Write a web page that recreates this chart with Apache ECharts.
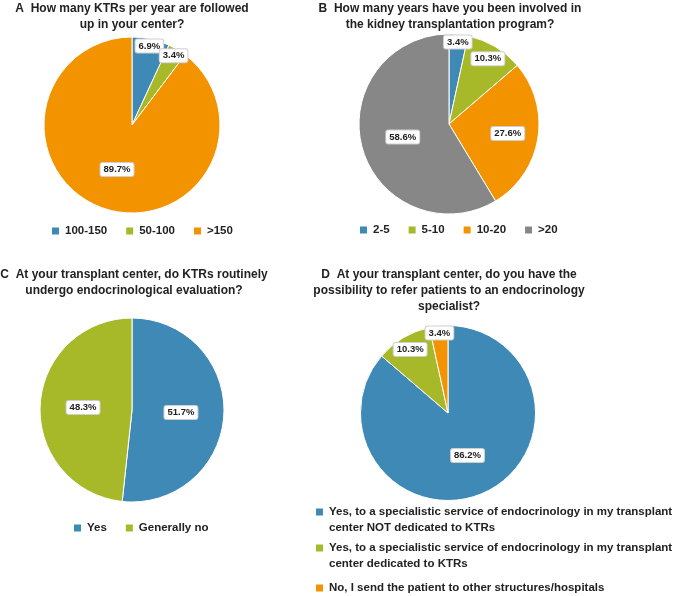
<!DOCTYPE html>
<html>
<head>
<meta charset="utf-8">
<script src="https://cdn.jsdelivr.net/npm/echarts@6/dist/echarts.min.js"></script>
<style>
  html, body { margin: 0; padding: 0; background: #fff; }
  #chart { width: 685px; height: 596px; }
</style>
</head>
<body>
<div id="chart"></div>
<script>
// A: KTRs followed per year
const ktrCats = ["100-150", "50-100", ">150"];
const ktrVals = [6.9, 3.4, 89.7];
// B: years in program
const yearCats = ["2-5", "5-10", "10-20", ">20"];
const yearVals = [3.4, 10.3, 27.6, 58.6];
// C: routine endocrinological evaluation
const evalCats = ["Yes", "Generally no"];
const evalVals = [51.7, 48.3];
// D: referral possibility
const referCats = [
  "Yes, to a specialistic service of endocrinology in my transplant center NOT dedicated to KTRs",
  "Yes, to a specialistic service of endocrinology in my transplant center dedicated to KTRs",
  "No, I send the patient to other structures/hospitals",
];
const referVals = [86.2, 10.3, 3.4];

const BLUE = "#3f89b7", GREEN = "#a7b929", ORANGE = "#f49300", GREY = "#878787";
const font = "Liberation Sans, Arial, sans-serif";

function pieData(cats, vals) {
  return cats.map((name, i) => ({ name, value: vals[i] }));
}

// Excel "best fit": small slices get their label near the rim
function labelPush(center, vals) {
  return (p) => {
    const v = vals[p.dataIndex];
    const f = v < 8 ? 0.86 : v < 15 ? 0.79 : v < 40 ? 0.62 : 0.5;
    const lx = p.labelRect.x + p.labelRect.width / 2;
    const ly = p.labelRect.y + p.labelRect.height / 2;
    const k = 2 * f - 1;
    return { dx: (lx - center[0]) * k, dy: (ly - center[1]) * k };
  };
}

function pie(center, radius, cats, vals, colors) {
  return {
    type: "pie",
    center,
    radius,
    startAngle: 90,
    clockwise: true,
    avoidLabelOverlap: false,
    color: colors,
    itemStyle: { borderColor: "#fff", borderWidth: 1 },
    label: {
      show: true,
      position: "inside",
      formatter: "{c}%",
      fontFamily: font,
      fontWeight: "bold",
      fontSize: 9.5,
      color: "#222",
      backgroundColor: "#fff",
      borderColor: "#cfcfcf",
      borderWidth: 1,
      borderRadius: 2,
      padding: [2, 3, 1, 3],
    },
    labelLine: { show: false },
    labelLayout: labelPush(center, vals),
    emphasis: { disabled: true },
    data: pieData(cats, vals),
  };
}

function title(text, x, y) {
  return {
    text,
    left: x,
    top: y,
    textAlign: "center",
    padding: 0,
    textStyle: { fontFamily: font, fontWeight: "bold", fontSize: 12, lineHeight: 16, color: "#222" },
  };
}

function legendBase(x, y) {
  return {
    left: x,
    top: y,
    icon: "rect",
    itemWidth: 9,
    itemHeight: 9,
    padding: 0,
    selectedMode: false,
  };
}

function hLegend(cats, x, y) {
  return Object.assign(legendBase(x, y), {
    data: cats,
    orient: "horizontal",
    itemGap: 17,
    textStyle: { fontFamily: font, fontWeight: "bold", fontSize: 11.5, color: "#222" },
  });
}

// one legend per answer so the long wrapped names stay in place;
// a leading blank line puts the square level with the first text line
function referLegend(i, y, wrapped) {
  return Object.assign(legendBase(314, y), {
    data: [referCats[i]],
    orient: "vertical",
    formatter: (name) => (wrapped ? "\n" + name : name),
    textStyle: {
      fontFamily: font,
      fontWeight: "bold",
      fontSize: 11.5,
      lineHeight: 16,
      color: "#222",
      width: 356,
      overflow: "break",
    },
  });
}

const chart = echarts.init(document.getElementById("chart"), null, { renderer: "canvas" });
chart.setOption({
  animation: false,
  backgroundColor: "#fff",
  title: [
    title("A  How many KTRs per year are followed\nup in your center?", 132, 1),
    title("B  How many years have you been involved in\nthe kidney transplantation program?", 450, 1),
    title("C  At your transplant center, do KTRs routinely\nundergo endocrinological evaluation?", 134, 267),
    title("D  At your transplant center, do you have the\npossibility to refer patients to an endocrinology\nspecialist?", 449, 267),
  ],
  legend: [
    hLegend(ktrCats, 50, 225),
    hLegend(yearCats, 358, 224),
    hLegend(evalCats, 72, 522),
    referLegend(0, 488, true),
    referLegend(1, 524, true),
    referLegend(2, 580, false),
  ],
  series: [
    pie([132, 125], 88, ktrCats, ktrVals, [BLUE, GREEN, ORANGE]),
    pie([449, 124], 90, yearCats, yearVals, [BLUE, GREEN, ORANGE, GREY]),
    pie([132, 410], 92, evalCats, evalVals, [BLUE, GREEN]),
    pie([448, 413], 87.5, referCats, referVals, [BLUE, GREEN, ORANGE]),
  ],
});
</script>
</body>
</html>
